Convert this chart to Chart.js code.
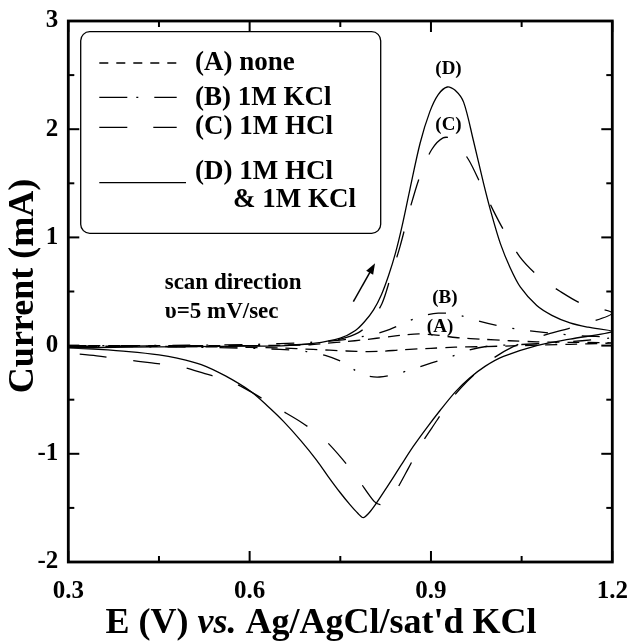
<!DOCTYPE html>
<html><head><meta charset="utf-8">
<script src="https://cdn.jsdelivr.net/npm/chart.js@4.4.1/dist/chart.umd.min.js"></script>
<style>html,body{margin:0;padding:0;background:#fff;}#wrap{width:629px;height:642px;}</style>
</head><body><div id="wrap"><canvas id="c" width="629" height="642"></canvas></div>
<script>
// ---------- data ----------
const seriesNames = ['(A) none', '(B) 1M KCl', '(C) 1M HCl', '(D) 1M HCl'];
const seriesNamesLine2 = ['', '', '', '& 1M KCl'];
const curveLabels = ['(A)', '(B)', '(C)', '(D)'];
const xTicks = [0.3, 0.6, 0.9, 1.2];
const xTickLabels = ['0.3', '0.6', '0.9', '1.2'];
const xMinorTicks = [0.45, 0.75, 1.05];
const yTicks = [-2, -1, 0, 1, 2, 3];
const yTickLabels = ['-2', '-1', '0', '1', '2', '3'];
const yMinorTicks = [-1.5, -0.5, 0.5, 1.5, 2.5];
const xTitleParts = ['E (V) ', 'vs.', ' Ag/AgCl/sat\'d KCl'];
const yTitle = 'Current (mA)';
const noteLines = ['scan direction', '\u03c5=5 mV/sec'];

// (A) none : potential (V) and current (mA), forward then reverse scan
const aE = [0.30,0.40,0.50,0.60,0.65,0.70,0.727,0.76,0.788,0.81,0.832,0.857,0.88,0.905,0.926,0.95,0.981,1.03,1.075,1.13,1.20,
            1.13,1.05,0.98,0.94,0.90,0.88,0.849,0.82,0.794,0.76,0.705,0.65,0.55,0.45,0.30];
const aI = [0.0,0.0,0.0,0.0,0.002,0.008,0.022,0.037,0.053,0.068,0.083,0.10,0.108,0.10,0.085,0.07,0.06,0.045,0.035,0.03,0.025,
            0.012,0.0,-0.01,-0.015,-0.025,-0.03,-0.04,-0.052,-0.055,-0.05,-0.035,-0.022,-0.012,-0.008,-0.005];
// (B) 1M KCl
const bE = [0.30,0.40,0.50,0.60,0.70,0.75,0.783,0.81,0.832,0.86,0.887,0.912,0.935,0.951,0.981,1.011,1.045,1.075,1.105,1.15,1.20,
            1.15,1.10,1.05,0.995,0.964,0.932,0.901,0.874,0.841,0.815,0.795,0.775,0.755,0.725,0.694,0.65,0.60,0.50,0.40,0.30];
const bI = [0.0,0.0,0.004,0.01,0.03,0.05,0.08,0.11,0.15,0.22,0.275,0.30,0.295,0.275,0.225,0.185,0.15,0.13,0.11,0.09,0.075,
            0.045,0.025,0.01,-0.005,-0.04,-0.105,-0.16,-0.21,-0.265,-0.29,-0.28,-0.23,-0.155,-0.09,-0.055,-0.035,-0.025,-0.015,-0.01,-0.01];
// (C) 1M HCl
const cE = [0.30,0.40,0.50,0.60,0.66,0.70,0.75,0.78,0.80,0.819,0.832,0.849,0.866,0.882,0.901,0.920,0.935,0.962,0.984,1.003,1.020,1.047,1.078,1.114,1.152,1.20,
            1.14,1.078,1.036,1.00,0.96,0.93,0.91,0.885,0.863,0.841,0.826,0.816,0.806,0.78,0.752,0.722,0.686,0.647,0.603,0.568,0.526,0.482,0.438,0.394,0.347,0.30];
const cI = [-0.01,-0.005,0.0,0.0,0.005,0.015,0.06,0.12,0.22,0.39,0.61,0.92,1.28,1.57,1.81,1.92,1.91,1.72,1.47,1.25,1.07,0.82,0.64,0.50,0.38,0.30,
            0.18,0.08,-0.01,-0.13,-0.33,-0.52,-0.69,-0.90,-1.13,-1.35,-1.45,-1.47,-1.44,-1.24,-1.04,-0.86,-0.71,-0.58,-0.43,-0.33,-0.26,-0.19,-0.16,-0.13,-0.095,-0.07];
// (D) 1M HCl & 1M KCl
const dE = [0.30,0.40,0.50,0.60,0.66,0.705,0.75,0.775,0.79,0.805,0.818,0.830,0.841,0.852,0.865,0.882,0.898,0.912,0.927,0.940,0.954,0.970,0.987,1.000,1.015,1.031,1.048,1.075,1.10,1.13,1.16,1.20,
            1.13,1.075,1.02,0.99,0.964,0.94,0.915,0.893,0.871,0.85,0.827,0.808,0.797,0.788,0.779,0.766,0.750,0.73,0.711,0.685,0.656,0.630,0.601,0.56,0.52,0.48,0.45,0.40,0.35,0.30];
const dI = [-0.02,-0.015,-0.01,-0.005,0.0,0.02,0.07,0.14,0.22,0.33,0.47,0.65,0.85,1.10,1.44,1.87,2.16,2.32,2.39,2.36,2.25,1.90,1.50,1.22,0.94,0.72,0.54,0.37,0.28,0.21,0.17,0.13,
            0.06,0.0,-0.10,-0.19,-0.30,-0.43,-0.60,-0.76,-0.93,-1.11,-1.31,-1.47,-1.55,-1.59,-1.55,-1.47,-1.36,-1.21,-1.06,-0.88,-0.70,-0.56,-0.42,-0.28,-0.175,-0.115,-0.085,-0.055,-0.035,-0.02];

// ---------- styles ----------
const SERIF = '"Liberation Serif", "Times New Roman", serif';
const plotDash = [[12, 8], [18, 16, 2, 16], [27, 27], []];
const legendDash = [[9, 8], [28, 9, 2, 16], [28, 26], []];
const pts = (E, I) => E.map((e, i) => ({x: e, y: I[i]}));
const allE = [aE, bE, cE, dE], allI = [aI, bI, cI, dI];

const datasets = allE.map((E, k) => ({
  label: seriesNames[k],
  data: pts(E, allI[k]),
  showLine: true,
  borderColor: '#000',
  borderWidth: 1.3,
  borderDash: plotDash[k],
  pointRadius: 0,
  tension: 0.3,
  fill: false
}));

const overlay = {
  id: 'overlay',
  afterDraw(chart) {
    const {ctx, chartArea: ca, scales} = chart;
    const xs = scales.x, ys = scales.y;
    ctx.save();
    ctx.strokeStyle = '#000'; ctx.fillStyle = '#000';
    // frame
    ctx.lineWidth = 2.8;
    ctx.strokeRect(ca.left, ca.top, ca.right - ca.left, ca.bottom - ca.top);
    // inward ticks on all sides
    ctx.lineWidth = 2;
    const seg = (x1, y1, x2, y2) => { ctx.beginPath(); ctx.moveTo(x1, y1); ctx.lineTo(x2, y2); ctx.stroke(); };
    const xT = (v, L) => { const p = xs.getPixelForValue(v); seg(p, ca.bottom, p, ca.bottom - L); seg(p, ca.top, p, ca.top + L); };
    const yT = (v, L) => { const p = ys.getPixelForValue(v); seg(ca.left, p, ca.left + L, p); seg(ca.right, p, ca.right - L, p); };
    xTicks.forEach(v => xT(v, 11)); xMinorTicks.forEach(v => xT(v, 6));
    yTicks.forEach(v => yT(v, 11)); yMinorTicks.forEach(v => yT(v, 6));

    // axis titles
    ctx.textBaseline = 'middle';
    const fN = 'bold 36px ' + SERIF, fI = 'italic bold 36px ' + SERIF;
    const fonts = [fN, fI, fN];
    let total = 0;
    const widths = xTitleParts.map((t, i) => { ctx.font = fonts[i]; const w = ctx.measureText(t).width; total += w; return w; });
    let tx = 321 - total / 2;
    xTitleParts.forEach((t, i) => { ctx.font = fonts[i]; ctx.textAlign = 'left'; ctx.fillText(t, tx, 624); tx += widths[i]; });
    ctx.save();
    ctx.translate(24, 286); ctx.rotate(-Math.PI / 2);
    ctx.font = fN; ctx.textAlign = 'center';
    ctx.fillText(yTitle, 0, 0);
    ctx.restore();

    // legend box
    const bx = 80.7, by = 31.7, bw = 300, bh = 201.6, r = 9;
    ctx.lineWidth = 1.3;
    ctx.beginPath();
    ctx.moveTo(bx + r, by); ctx.lineTo(bx + bw - r, by); ctx.arcTo(bx + bw, by, bx + bw, by + r, r);
    ctx.lineTo(bx + bw, by + bh - r); ctx.arcTo(bx + bw, by + bh, bx + bw - r, by + bh, r);
    ctx.lineTo(bx + r, by + bh); ctx.arcTo(bx, by + bh, bx, by + bh - r, r);
    ctx.lineTo(bx, by + r); ctx.arcTo(bx, by, bx + r, by, r);
    ctx.closePath(); ctx.stroke();
    const rowY = [63.5, 97.7, 127.3, 172.3];
    const lineY = [63, 97.3, 127.3, 182.7];
    const lineEnd = [176.7, 176.7, 176.7, 186];
    ctx.font = 'bold 27px ' + SERIF; ctx.textAlign = 'left';
    seriesNames.forEach((name, k) => {
      ctx.save();
      ctx.lineWidth = 1.3; ctx.setLineDash(legendDash[k]);
      seg(99.3, lineY[k], lineEnd[k], lineY[k]);
      ctx.restore();
      ctx.fillText(name, 195, rowY[k]);
      if (seriesNamesLine2[k]) ctx.fillText(seriesNamesLine2[k], 233, 200);
    });

    // curve labels
    ctx.font = 'bold 19px ' + SERIF; ctx.textAlign = 'center';
    const labPos = [[0.915, 0.17], [0.923, 0.44], [0.929, 2.04], [0.929, 2.56]];
    curveLabels.forEach((t, k) => ctx.fillText(t, xs.getPixelForValue(labPos[k][0]), ys.getPixelForValue(labPos[k][1])));

    // scan direction note
    ctx.font = 'bold 23px ' + SERIF; ctx.textAlign = 'left';
    ctx.fillText(noteLines[0], xs.getPixelForValue(0.4595), ys.getPixelForValue(0.576));
    ctx.fillText(noteLines[1], xs.getPixelForValue(0.4595), ys.getPixelForValue(0.311));

    // arrow
    const x0 = xs.getPixelForValue(0.7716), y0 = ys.getPixelForValue(0.407);
    const x1 = xs.getPixelForValue(0.8075), y1 = ys.getPixelForValue(0.762);
    const ang = Math.atan2(y1 - y0, x1 - x0);
    ctx.lineWidth = 1.5;
    seg(x0, y0, x1 - 8 * Math.cos(ang), y1 - 8 * Math.sin(ang));
    ctx.beginPath();
    ctx.moveTo(x1, y1);
    ctx.lineTo(x1 - 11 * Math.cos(ang) + 4 * Math.sin(ang), y1 - 11 * Math.sin(ang) - 4 * Math.cos(ang));
    ctx.lineTo(x1 - 11 * Math.cos(ang) - 4 * Math.sin(ang), y1 - 11 * Math.sin(ang) + 4 * Math.cos(ang));
    ctx.closePath(); ctx.fill();
    ctx.restore();
  }
};

const tickFont = {family: SERIF, size: 25, weight: 'bold'};
new Chart(document.getElementById('c'), {
  type: 'scatter',
  data: {datasets},
  options: {
    responsive: false,
    animation: false,
    devicePixelRatio: 1,
    layout: {padding: {top: 21, right: 16.7, left: 0, bottom: 0}},
    plugins: {legend: {display: false}, tooltip: {enabled: false}},
    scales: {
      x: {
        type: 'linear', min: 0.3, max: 1.2,
        grid: {display: false, drawTicks: false},
        border: {display: false},
        afterBuildTicks: s => { s.ticks = xTicks.map(v => ({value: v})); },
        afterFit: s => { s.height = 80; s.paddingLeft = 0; s.paddingRight = 0; },
        ticks: {font: tickFont, color: '#000', padding: 15, maxRotation: 0, autoSkip: false,
                callback: (v, i) => xTickLabels[i]}
      },
      y: {
        type: 'linear', min: -2, max: 3,
        grid: {display: false, drawTicks: false},
        border: {display: false},
        afterBuildTicks: s => { s.ticks = yTicks.map(v => ({value: v})); },
        afterFit: s => { s.width = 68.3; s.paddingTop = 0; s.paddingBottom = 0; },
        ticks: {font: tickFont, color: '#000', padding: 10, autoSkip: false,
                callback: (v, i) => yTickLabels[i]}
      }
    }
  },
  plugins: [overlay]
});
</script>
</body></html>
